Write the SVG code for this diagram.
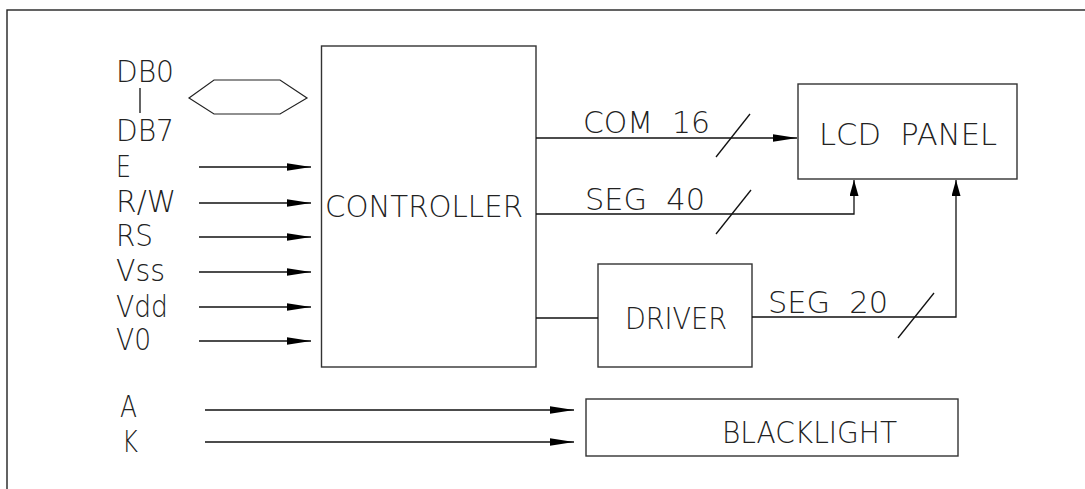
<svg xmlns="http://www.w3.org/2000/svg" width="1085" height="489" viewBox="0 0 1085 489">
<style>
.box{fill:#fff;stroke:#333;stroke-width:1.4}
.ln{fill:none;stroke:#111;stroke-width:1.3}
.t{font-family:"DejaVu Sans","Liberation Sans",sans-serif;font-weight:200;font-size:30.5px;fill:#222;white-space:pre}
</style>
<defs>
<marker id="ah" markerUnits="userSpaceOnUse" markerWidth="26" markerHeight="10" refX="24" refY="4" orient="auto">
<path d="M0,0.2 L24,4 L0,7.8 Z" fill="#000"/>
</marker>
<marker id="av" markerUnits="userSpaceOnUse" markerWidth="18" markerHeight="10" refX="16" refY="4.5" orient="auto">
<path d="M0,0 L16,4.5 L0,9 Z" fill="#000"/>
</marker>
</defs>
<rect x="0" y="0" width="1085" height="489" fill="#fff"/>
<rect x="7" y="10" width="1095" height="500" fill="none" stroke="#222" stroke-width="1.4"/>

<g id="inputs">
<text class="t" x="116" y="82" textLength="58" lengthAdjust="spacingAndGlyphs">DB0</text>
<line class="ln" x1="140" y1="88" x2="140" y2="113"/>
<text class="t" x="116" y="141" textLength="58" lengthAdjust="spacingAndGlyphs">DB7</text>
<polygon points="189,98 214,80 280,80 307,98 280,114 214,114" fill="none" stroke="#222" stroke-width="1.2"/>
<text class="t" x="116" y="177" textLength="15" lengthAdjust="spacingAndGlyphs">E</text>
<text class="t" x="116" y="212" textLength="60" lengthAdjust="spacingAndGlyphs">R/W</text>
<text class="t" x="116" y="246" textLength="37" lengthAdjust="spacingAndGlyphs">RS</text>
<text class="t" x="116" y="281" textLength="49" lengthAdjust="spacingAndGlyphs">Vss</text>
<text class="t" x="116" y="317" textLength="52" lengthAdjust="spacingAndGlyphs">Vdd</text>
<text class="t" x="116" y="350" textLength="35" lengthAdjust="spacingAndGlyphs">V0</text>
<text class="t" x="120" y="417" textLength="17" lengthAdjust="spacingAndGlyphs">A</text>
<text class="t" x="122" y="452" textLength="16" lengthAdjust="spacingAndGlyphs">K</text>
</g>

<g id="controller">
<rect class="box" x="321.5" y="46" width="214.5" height="321"/>
<text class="t" x="325" y="217" textLength="198" lengthAdjust="spacingAndGlyphs">CONTROLLER</text>
</g>

<g id="lcd-panel">
<rect class="box" x="798" y="84" width="219" height="95"/>
<text class="t" x="819" y="145" textLength="178" lengthAdjust="spacingAndGlyphs" xml:space="preserve">LCD  PANEL</text>
</g>

<g id="driver">
<rect class="box" x="598" y="264" width="154" height="103"/>
<text class="t" x="625" y="329" textLength="102" lengthAdjust="spacingAndGlyphs">DRIVER</text>
</g>

<g id="blacklight">
<rect class="box" x="586" y="399" width="372" height="57"/>
<text class="t" x="722" y="443" textLength="175" lengthAdjust="spacingAndGlyphs">BLACKLIGHT</text>
</g>

<g id="connectors">
<line class="ln" x1="199" y1="167" x2="311" y2="167" marker-end="url(#ah)"/>
<line class="ln" x1="199" y1="203" x2="311" y2="203" marker-end="url(#ah)"/>
<line class="ln" x1="199" y1="237" x2="311" y2="237" marker-end="url(#ah)"/>
<line class="ln" x1="199" y1="272" x2="311" y2="272" marker-end="url(#ah)"/>
<line class="ln" x1="199" y1="307" x2="311" y2="307" marker-end="url(#ah)"/>
<line class="ln" x1="199" y1="341" x2="311" y2="341" marker-end="url(#ah)"/>
<line class="ln" x1="205" y1="410" x2="574" y2="410" marker-end="url(#ah)"/>
<line class="ln" x1="205" y1="442" x2="574" y2="442" marker-end="url(#ah)"/>

<line class="ln" x1="536" y1="138" x2="797" y2="138" marker-end="url(#ah)"/>
<line class="ln" x1="716" y1="157" x2="750" y2="114"/>
<text class="t" x="583" y="133" textLength="127" lengthAdjust="spacingAndGlyphs" xml:space="preserve">COM  16</text>

<polyline class="ln" points="536,214 854,214 854,180" marker-end="url(#av)"/>
<line class="ln" x1="716" y1="234" x2="751" y2="190"/>
<text class="t" x="585" y="210" textLength="120" lengthAdjust="spacingAndGlyphs" xml:space="preserve">SEG  40</text>

<line class="ln" x1="536" y1="318" x2="598" y2="318"/>
<polyline class="ln" points="752,317 956,317 956,180" marker-end="url(#av)"/>
<line class="ln" x1="898" y1="338" x2="934" y2="293"/>
<text class="t" x="768" y="313" textLength="120" lengthAdjust="spacingAndGlyphs" xml:space="preserve">SEG  20</text>
</g>
</svg>
